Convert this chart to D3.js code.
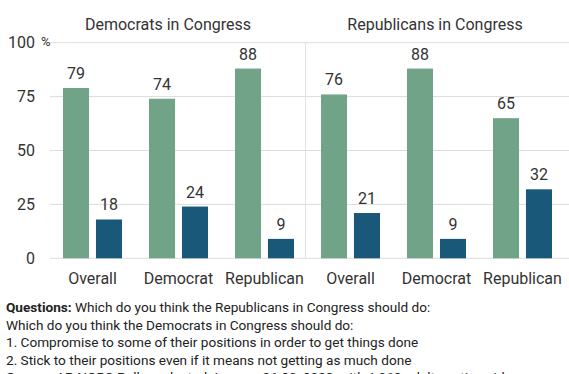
<!DOCTYPE html>
<html><head><meta charset="utf-8">
<script src="https://cdn.jsdelivr.net/npm/d3@7"></script>
<style>
body{margin:0;background:#fff;}
svg{display:block;font-family:Roboto, sans-serif;}
</style></head>
<body>
<svg id="c" width="569" height="374"></svg>
<script>
const panels = ["Democrats in Congress", "Republicans in Congress"];
const groups = ["Overall", "Democrat", "Republican"];
const seriesNames = ["Compromise", "Stick to positions"];
const compromise = [79, 74, 88, 76, 88, 65];
const stick = [18, 24, 9, 21, 9, 32];
const yTicks = [0, 25, 50, 75, 100];
const footer = [
  ["Questions:", " Which do you think the Republicans in Congress should do:"],
  ["", "Which do you think the Democrats in Congress should do:"],
  ["", "1. Compromise to some of their positions in order to get things done"],
  ["", "2. Stick to their positions even if it means not getting as much done"],
  ["Source:", " AP-NORC Poll conducted January 26-30, 2023, with 1,068 adults nationwide"]
];

const colors = ["#70a387", "#1a5879"];
const svg = d3.select("#c");
const rows = [];
panels.forEach((p, pi) => groups.forEach((g, gi) => {
  const i = pi * 3 + gi;
  rows.push({key: p + "|" + g, panel: pi, group: g, vals: [compromise[i], stick[i]]});
}));

const y = d3.scaleLinear().domain([0, 100]).range([258.3, 42.7]);
const x0 = d3.scaleBand().domain(rows.map(d => d.key)).range([49, 565]).padding(0);
const x1 = d3.scaleBand().domain([0, 1]).range([14, 73]).paddingInner(0.21).paddingOuter(0);

// gridlines
svg.append("g").selectAll("line").data(yTicks).join("line")
  .attr("x1", 50).attr("x2", 569)
  .attr("y1", d => y(d)).attr("y2", d => y(d))
  .attr("stroke", "#dcdcdc").attr("stroke-width", 1);

// divider
const divX = x0(rows[3].key) - 1.5;
svg.append("line").attr("x1", divX).attr("x2", divX)
  .attr("y1", y(100)).attr("y2", y(0)).attr("stroke", "#e2e2e2");

// y labels
const yl = svg.append("g");
yl.selectAll("text").data(yTicks).join("text")
  .attr("x", 35).attr("y", d => y(d) + 5.5)
  .attr("text-anchor", "end").attr("font-size", 16).attr("fill", "#333")
  .text(d => d);
yl.append("text").attr("x", 41).attr("y", y(100) + 3).attr("font-size", 13).attr("fill", "#333").text("%");

// bars
const g = svg.append("g");
const grp = g.selectAll("g").data(rows).join("g")
  .attr("transform", d => `translate(${x0(d.key)},0)`);
grp.selectAll("rect").data(d => d.vals.map((v, i) => ({v, i}))).join("rect")
  .attr("x", d => x1(d.i)).attr("width", x1.bandwidth())
  .attr("y", d => y(d.v)).attr("height", d => y(0) - y(d.v))
  .attr("fill", d => colors[d.i]);
grp.selectAll("text.v").data(d => d.vals.map((v, i) => ({v, i}))).join("text")
  .attr("class", "v")
  .attr("x", d => x1(d.i) + x1.bandwidth() / 2).attr("y", d => y(d.v) - 9)
  .attr("text-anchor", "middle").attr("font-size", 16).attr("fill", "#333")
  .text(d => d.v);
grp.append("text")
  .attr("x", x0.bandwidth() / 2 + 0.5).attr("y", 284)
  .attr("text-anchor", "middle").attr("font-size", 16).attr("fill", "#333")
  .text(d => d.group);

// panel titles
const titleX = [168, 435];
svg.selectAll("text.t").data(panels).join("text").attr("class", "t")
  .attr("x", (d, i) => titleX[i]).attr("y", 30)
  .attr("text-anchor", "middle").attr("font-size", 16).attr("fill", "#333")
  .text(d => d);

// footer
const f = svg.append("g");
footer.forEach((ln, i) => {
  const t = f.append("text").attr("x", 6).attr("y", 312 + i * 17.6)
    .attr("font-size", 13.6).attr("fill", "#222");
  if (ln[0]) t.append("tspan").attr("font-weight", "bold").text(ln[0]);
  t.append("tspan").text(ln[1]);
});
</script>
</body></html>
